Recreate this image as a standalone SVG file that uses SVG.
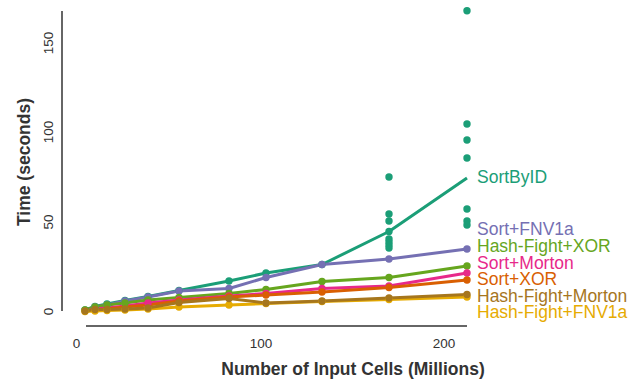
<svg xmlns="http://www.w3.org/2000/svg" width="642" height="383" viewBox="0 0 642 383">
<style>
text{font-family:"Liberation Sans",Arial,sans-serif}
.tick{font-size:13.5px;fill:#333}
.title{font-size:17.5px;font-weight:bold;fill:#333}
.lab{font-size:17.5px}
.axis{stroke:#333;stroke-width:1.5;fill:none}
.ln{fill:none;stroke-width:3;stroke-linejoin:round}
.teal{stroke:#1b9e77;fill:#1b9e77}
.purple{stroke:#7570b3;fill:#7570b3}
.green{stroke:#66a61e;fill:#66a61e}
.pink{stroke:#e7298a;fill:#e7298a}
.orange{stroke:#d95f02;fill:#d95f02}
.brown{stroke:#a6761d;fill:#a6761d}
.yellow{stroke:#e6ab02;fill:#e6ab02}
circle{stroke:none}
</style>
<rect width="642" height="383" fill="#fff"/>
<g id="axes">
<line class="axis" x1="62" y1="11" x2="62" y2="311"/>
<line class="axis" x1="86" y1="326" x2="467" y2="326"/>
<text class="tick" transform="translate(53,311.5) rotate(-90)" text-anchor="middle">0</text>
<text class="tick" transform="translate(53,222) rotate(-90)" text-anchor="middle">50</text>
<text class="tick" transform="translate(53,132) rotate(-90)" text-anchor="middle">100</text>
<text class="tick" transform="translate(53,43) rotate(-90)" text-anchor="middle">150</text>
<text class="tick" x="76.5" y="348" text-anchor="middle">0</text>
<text class="tick" x="261" y="348" text-anchor="middle">100</text>
<text class="tick" x="444" y="348" text-anchor="middle">200</text>
<text class="title" x="353" y="375" text-anchor="middle">Number of Input Cells (Millions)</text>
<text class="title" transform="translate(30,162) rotate(-90)" text-anchor="middle">Time (seconds)</text>
</g>
<g id="connectors">
<polyline class="ln teal" fill="none" style="fill:none" points="85,310 95,306.5 107,304 125,300.5 148,296.5 179,290.5 229,281 266,273 322,264.5 389,231.5 467,178"/>
<polyline class="ln purple" style="fill:none" points="85,310 95,307 107,305 125,301 148,297 179,291 229,288.5 266,277.5 322,264.5 389,259 467,249"/>
<polyline class="ln green" style="fill:none" points="85,310 95,307 107,305 125,303 148,300 179,297.5 229,293.5 266,289.5 322,281.5 389,277.5 467,266"/>
<polyline class="ln pink" style="fill:none" points="85,311 95,309 107,308 125,306 148,303 179,300 229,296 266,293.5 322,288.5 389,286 467,273"/>
<polyline class="ln orange" style="fill:none" points="85,311 95,310 107,309 125,307 148,305 179,301 229,297 266,295 322,292 389,287.5 467,280"/>
<polyline class="ln yellow" style="fill:none" points="85,311.5 95,311 107,310.5 125,310 148,309 179,307 229,305 266,303.5 322,301.5 389,299.5 467,297"/>
<polyline class="ln brown" style="fill:none" points="85,311 95,309.5 107,309.5 125,309 148,308 179,302.5 229,298.5 266,303 322,301 389,298 467,294.5"/>
</g>
<g id="SortByID" class="teal">
<circle cx="85" cy="310" r="3.7"/><circle cx="95" cy="306.5" r="3.7"/><circle cx="107" cy="304" r="3.7"/><circle cx="125" cy="300.5" r="3.7"/><circle cx="148" cy="296.5" r="3.7"/><circle cx="179" cy="290.5" r="3.7"/><circle cx="229" cy="281" r="3.7"/><circle cx="266" cy="273" r="3.7"/><circle cx="322" cy="264.5" r="3.7"/>
<circle cx="389" cy="177" r="3.7"/><circle cx="389" cy="214" r="3.7"/><circle cx="389" cy="221" r="3.7"/><circle cx="389" cy="231.5" r="3.7"/><circle cx="389" cy="239" r="3.7"/><circle cx="389" cy="242" r="3.7"/><circle cx="389" cy="245" r="3.7"/><circle cx="389" cy="248" r="3.7"/>
<circle cx="467" cy="10.7" r="3.7"/><circle cx="467" cy="124" r="3.7"/><circle cx="467" cy="140" r="3.7"/><circle cx="467" cy="158" r="3.7"/><circle cx="467" cy="209" r="3.7"/><circle cx="467" cy="221" r="3.7"/><circle cx="467" cy="225" r="3.7"/>
<text class="lab" x="477" y="183" stroke="none">SortByID</text>
</g>
<g id="Sort-FNV1a" class="purple">
<circle cx="95" cy="307" r="3.7"/><circle cx="107" cy="305" r="3.7"/><circle cx="125" cy="301" r="3.7"/><circle cx="148" cy="297" r="3.7"/><circle cx="179" cy="291" r="3.7"/><circle cx="229" cy="288.5" r="3.7"/><circle cx="266" cy="277.5" r="3.7"/><circle cx="322" cy="264.5" r="3.7"/><circle cx="389" cy="259" r="3.7"/><circle cx="467" cy="249" r="3.7"/>
<text class="lab" x="477" y="235" stroke="none">Sort+FNV1a</text>
</g>
<g id="Hash-Fight-XOR" class="green">
<circle cx="85" cy="310" r="3.7"/><circle cx="95" cy="307" r="3.7"/><circle cx="107" cy="305" r="3.7"/><circle cx="125" cy="303" r="3.7"/><circle cx="148" cy="300" r="3.7"/><circle cx="179" cy="297.5" r="3.7"/><circle cx="229" cy="293.5" r="3.7"/><circle cx="266" cy="289.5" r="3.7"/><circle cx="322" cy="281.5" r="3.7"/><circle cx="389" cy="277.5" r="3.7"/><circle cx="467" cy="266" r="3.7"/>
<text class="lab" x="477" y="252" stroke="none">Hash-Fight+XOR</text>
</g>
<g id="Sort-Morton" class="pink">
<circle cx="148" cy="303" r="3.7"/><circle cx="179" cy="300" r="3.7"/><circle cx="229" cy="296" r="3.7"/><circle cx="266" cy="293.5" r="3.7"/><circle cx="322" cy="288.5" r="3.7"/><circle cx="389" cy="286" r="3.7"/><circle cx="467" cy="273" r="3.7"/>
<text class="lab" x="477" y="268.5" stroke="none">Sort+Morton</text>
</g>
<g id="Sort-XOR" class="orange">
<circle cx="179" cy="301" r="3.7"/><circle cx="229" cy="297" r="3.7"/><circle cx="266" cy="295" r="3.7"/><circle cx="322" cy="292" r="3.7"/><circle cx="389" cy="287.5" r="3.7"/><circle cx="467" cy="280" r="3.7"/>
<text class="lab" x="477" y="284.5" stroke="none">Sort+XOR</text>
</g>
<g id="Hash-Fight-FNV1a" class="yellow">
<circle cx="85" cy="311.5" r="3.7"/><circle cx="95" cy="311" r="3.7"/><circle cx="107" cy="310.5" r="3.7"/><circle cx="125" cy="310" r="3.7"/><circle cx="148" cy="309" r="3.7"/><circle cx="179" cy="307" r="3.7"/><circle cx="229" cy="305" r="3.7"/><circle cx="266" cy="303.5" r="3.7"/><circle cx="322" cy="301.5" r="3.7"/><circle cx="389" cy="299.5" r="3.7"/><circle cx="467" cy="297" r="3.7"/>
<text class="lab" x="477" y="318" stroke="none">Hash-Fight+FNV1a</text>
</g>
<g id="Hash-Fight-Morton" class="brown">
<circle cx="85" cy="311" r="3.7"/><circle cx="95" cy="309.5" r="3.7"/><circle cx="107" cy="309.5" r="3.7"/><circle cx="125" cy="309" r="3.7"/><circle cx="148" cy="308" r="3.7"/><circle cx="179" cy="302.5" r="3.7"/><circle cx="229" cy="298.5" r="3.7"/><circle cx="266" cy="303" r="3.7"/><circle cx="322" cy="301" r="3.7"/><circle cx="389" cy="298" r="3.7"/><circle cx="467" cy="294.5" r="3.7"/>
<text class="lab" x="477" y="301.5" stroke="none">Hash-Fight+Morton</text>
</g>
</svg>
